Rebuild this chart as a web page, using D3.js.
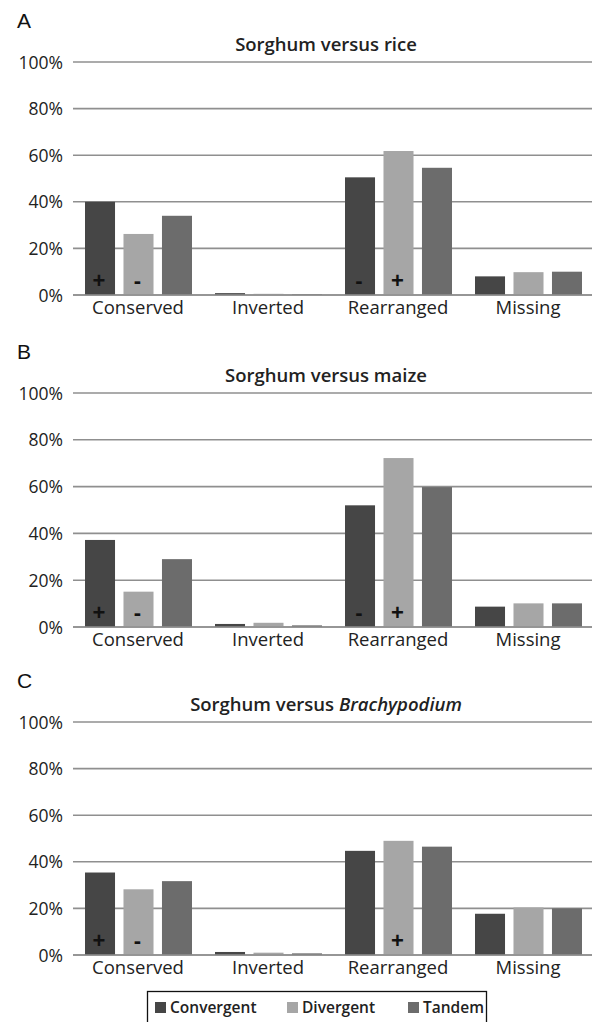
<!DOCTYPE html>
<html><head><meta charset="utf-8">
<script src="https://cdn.jsdelivr.net/npm/d3@7"></script>
<style>body{margin:0;background:#fff}svg{display:block}</style>
</head><body>
<svg id="c" width="592" height="1022"></svg>
<script>
const categories = ["Conserved", "Inverted", "Rearranged", "Missing"];
const seriesNames = ["Convergent", "Divergent", "Tandem"];
const seriesColors = ["#464646", "#a6a6a6", "#6c6c6c"];
const yTicks = [0, 20, 40, 60, 80, 100];

const riceConvergent = [40, 0.8, 50.5, 8];
const riceDivergent = [26.2, 0.5, 61.8, 9.8];
const riceTandem = [34, 0.3, 54.6, 10];
const riceMarks = [["+", "-", ""], ["", "", ""], ["-", "+", ""], ["", "", ""]];

const maizeConvergent = [37.2, 1.3, 52, 8.7];
const maizeDivergent = [15.1, 1.8, 72.2, 10.1];
const maizeTandem = [29, 0.7, 59.8, 10.1];
const maizeMarks = [["+", "-", ""], ["", "", ""], ["-", "+", ""], ["", "", ""]];

const brachyConvergent = [35.4, 1.3, 44.7, 17.7];
const brachyDivergent = [28.2, 1, 49, 20.4];
const brachyTandem = [31.7, 0.7, 46.5, 20];
const brachyMarks = [["+", "-", ""], ["", "", ""], ["", "+", ""], ["", "", ""]];

const panels = [
  {letter: "A", title: [["Sorghum versus rice", false]], series: [riceConvergent, riceDivergent, riceTandem], marks: riceMarks, top: 62, bottom: 295},
  {letter: "B", title: [["Sorghum versus maize", false]], series: [maizeConvergent, maizeDivergent, maizeTandem], marks: maizeMarks, top: 393, bottom: 627},
  {letter: "C", title: [["Sorghum versus ", false], ["Brachypodium", true]], series: [brachyConvergent, brachyDivergent, brachyTandem], marks: brachyMarks, top: 722, bottom: 955}
];

const FONT = "'Open Sans', 'Noto Sans', sans-serif";
const svg = d3.select("#c");
const left = 73, right = 593;

const x0 = d3.scaleBand().domain(categories).range([left, right]).padding(0);
const x1 = d3.scaleBand().domain(seriesNames).range([12, 119]).paddingInner(0.22).paddingOuter(0);

panels.forEach(p => {
  const g = svg.append("g");
  const y = d3.scaleLinear().domain([0, 100]).range([p.bottom, p.top]);

  // panel letter
  g.append("text").attr("x", 17).attr("y", p.top - 34)
    .attr("font-family", "Arial, 'Liberation Sans', sans-serif").attr("font-size", 21)
    .attr("fill", "#111").text(p.letter);

  // title
  const t = g.append("text").attr("x", 326).attr("y", p.top - 11)
    .attr("text-anchor", "middle").attr("font-family", FONT).attr("font-size", 18.5)
    .attr("font-weight", 600).attr("fill", "#222");
  p.title.forEach(([s, it]) => t.append("tspan").attr("font-style", it ? "italic" : "normal").text(s));

  // gridlines
  g.selectAll("line.grid").data(yTicks).join("line")
    .attr("x1", left).attr("x2", right)
    .attr("y1", d => y(d)).attr("y2", d => y(d))
    .attr("stroke", "#8f8f8f").attr("stroke-width", 1.6);

  // y axis labels
  const yAxis = d3.axisLeft(y).tickValues(yTicks).tickFormat(d => d + "%").tickSize(0).tickPadding(10);
  const ya = g.append("g").attr("transform", `translate(${left},0)`).call(yAxis);
  ya.select(".domain").remove();
  ya.selectAll("text").attr("font-family", FONT).attr("font-size", 17.5).attr("fill", "#222").attr("dy", "0.35em");

  // bars
  const grp = g.selectAll("g.cat").data(categories).join("g")
    .attr("transform", d => `translate(${x0(d)},0)`);
  grp.selectAll("rect").data((c, ci) => seriesNames.map((s, si) => ({s, si, v: p.series[si][ci], m: p.marks[ci][si]})))
    .join("rect")
    .attr("x", d => x1(d.s)).attr("width", x1.bandwidth())
    .attr("y", d => y(d.v)).attr("height", d => y(0) - y(d.v))
    .attr("fill", d => seriesColors[d.si]);
  grp.selectAll("text.mark").data((c, ci) => seriesNames.map((s, si) => ({s, si, m: p.marks[ci][si]})).filter(d => d.m))
    .join("text")
    .attr("x", d => x1(d.s) + x1.bandwidth() / 2 - 1)
    .attr("y", y(0) - 7)
    .attr("text-anchor", "middle").attr("font-family", "Arial, 'Liberation Sans', sans-serif")
    .attr("font-weight", "bold").attr("font-size", 22)
    .attr("fill", "#111").text(d => d.m);

  // baseline
  g.append("line").attr("x1", left).attr("x2", right).attr("y1", y(0)).attr("y2", y(0))
    .attr("stroke", "#8f8f8f").attr("stroke-width", 1.6);

  // x axis labels
  const xAxis = d3.axisBottom(x0).tickSize(0).tickPadding(6);
  const xa = g.append("g").attr("transform", `translate(0,${p.bottom})`).call(xAxis);
  xa.select(".domain").remove();
  xa.selectAll("text").attr("font-family", FONT).attr("font-size", 18.5).attr("fill", "#222")
    .attr("dy", "0.71em");
});

// legend
const lg = svg.append("g");
lg.append("rect").attr("x", 147.5).attr("y", 991.5).attr("width", 339).attr("height", 33)
  .attr("fill", "#fff").attr("stroke", "#111").attr("stroke-width", 1.3);
const legX = [155, 287, 408];
seriesNames.forEach((s, i) => {
  lg.append("rect").attr("x", legX[i]).attr("y", 1002).attr("width", 11).attr("height", 11).attr("fill", seriesColors[i]);
  lg.append("text").attr("x", legX[i] + 15).attr("y", 1013).attr("font-family", FONT)
    .attr("font-weight", 600).attr("font-size", 15.5).attr("fill", "#222").text(s);
});
</script>
</body></html>
